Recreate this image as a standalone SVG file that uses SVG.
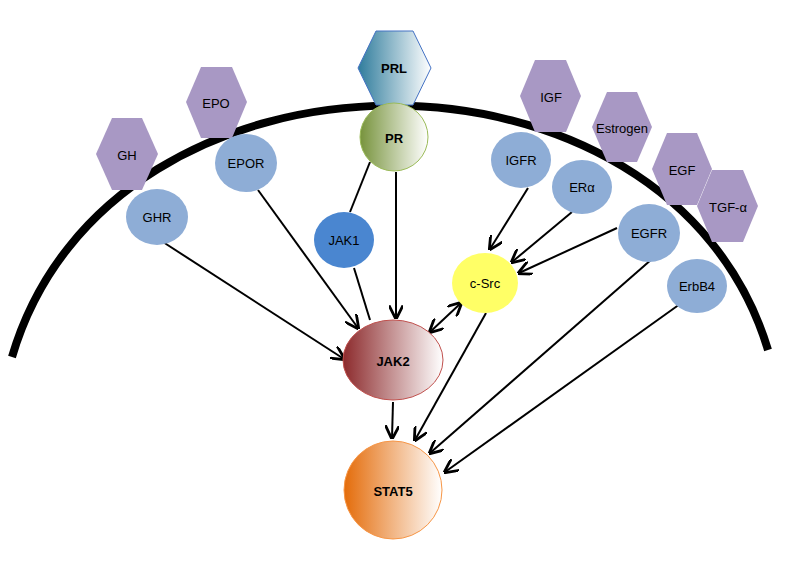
<svg xmlns="http://www.w3.org/2000/svg" width="785" height="588" viewBox="0 0 785 588">
<defs>
<linearGradient id="gPRL" x1="0" x2="1" y1="0" y2="0"><stop offset="0" stop-color="#2f7c9c"/><stop offset="1" stop-color="#ffffff"/></linearGradient>
<linearGradient id="gPR" x1="0" x2="1"><stop offset="0" stop-color="#77933c"/><stop offset="1" stop-color="#ffffff"/></linearGradient>
<linearGradient id="gJAK2" x1="0" x2="1"><stop offset="0" stop-color="#8c2a2c"/><stop offset="1" stop-color="#ffffff"/></linearGradient>
<linearGradient id="gSTAT5" x1="0" x2="1"><stop offset="0" stop-color="#e46c0a"/><stop offset="1" stop-color="#ffffff"/></linearGradient>
<marker id="ah" viewBox="0 0 10 10" refX="9" refY="5" markerWidth="7" markerHeight="7" orient="auto-start-reverse"><path d="M0,0 L10,5 L0,10" fill="none" stroke="#000" stroke-width="2"/></marker>
</defs>
<style>
.hex{fill:#a898c4;stroke:none}
.rec{fill:#8eadd6;stroke:none}
text{font-family:"Liberation Sans",Arial,sans-serif;font-size:13px;text-anchor:middle;dominant-baseline:central;fill:#000}
.b{font-weight:bold}
.e{stroke:#000;stroke-width:2;fill:none}
.a{marker-end:url(#ah)}
</style>
<rect width="785" height="588" fill="#fff"/>
<path d="M12,357 C110,23 670,23 768,350" fill="none" stroke="#000" stroke-width="8"/>
<g id="connectors">
<line class="e a" x1="163" y1="242" x2="344" y2="359"/>
<line class="e a" x1="258" y1="190" x2="358" y2="328"/>
<line class="e" x1="370" y1="162" x2="350" y2="212"/>
<line class="e" x1="354" y1="268" x2="370" y2="320"/>
<line class="e a" x1="396" y1="172" x2="396" y2="318"/>
<line class="e a" x1="528" y1="188" x2="490" y2="249"/>
<line class="e a" x1="572" y1="212" x2="512" y2="262"/>
<line class="e a" x1="617" y1="228" x2="519" y2="273"/>
<line class="e a" x1="461" y1="303" x2="430" y2="332" marker-start="url(#ah)"/>
<line class="e a" x1="486" y1="313" x2="415" y2="440"/>
<line class="e a" x1="393" y1="402" x2="392" y2="438"/>
<line class="e a" x1="652" y1="259" x2="430" y2="453"/>
<line class="e a" x1="680" y1="304" x2="445" y2="472"/>
</g>
<g id="GH"><polygon class="hex" points="96,154 112,118 142,118 158,154 142,190 112,190"/><text x="127" y="155">GH</text></g>
<g id="EPO"><polygon class="hex" points="186,102 201,67 232,67 247,102 232,138 201,138"/><text x="216" y="103">EPO</text></g>
<g id="PRL"><polygon points="358,68 376,31 413,31 431,68 413,105 376,105" fill="url(#gPRL)" stroke="#4472c4" stroke-width="1"/><text class="b" x="394" y="68">PRL</text></g>
<g id="IGF"><polygon class="hex" points="520,96 535,60 566,60 581,96 566,132 535,132"/><text x="551" y="97">IGF</text></g>
<g id="Estrogen"><polygon class="hex" points="592,127 607,92 637,92 652,127 637,162 607,162"/><text x="622" y="128">Estrogen</text></g>
<g id="EGF"><polygon class="hex" points="652,169 667,133 697,133 712,169 697,205 667,205"/><text x="682" y="170">EGF</text></g>
<g id="TGF"><polygon class="hex" points="697,206 712,170 743,170 758,206 743,242 712,242"/><text x="728" y="207">TGF-α</text></g>
<g id="GHR"><ellipse class="rec" cx="157" cy="217" rx="31" ry="28"/><text x="157" y="217">GHR</text></g>
<g id="EPOR"><ellipse class="rec" cx="246" cy="163" rx="31" ry="29"/><text x="246" y="163">EPOR</text></g>
<g id="PR"><circle cx="394" cy="137" r="34" fill="url(#gPR)" stroke="#9bbb59" stroke-width="1"/><text class="b" x="394" y="138">PR</text></g>
<g id="JAK1"><ellipse cx="344" cy="240" rx="30" ry="28" fill="#4a86d0"/><text x="344" y="240">JAK1</text></g>
<g id="IGFR"><ellipse class="rec" cx="521" cy="160" rx="30" ry="28"/><text x="521" y="160">IGFR</text></g>
<g id="ERa"><ellipse class="rec" cx="582" cy="187" rx="30" ry="27"/><text x="582" y="187">ERα</text></g>
<g id="EGFR"><ellipse class="rec" cx="649" cy="233" rx="31" ry="29"/><text x="649" y="233">EGFR</text></g>
<g id="ErbB4"><ellipse class="rec" cx="697" cy="286" rx="30" ry="27"/><text x="697" y="286">ErbB4</text></g>
<g id="cSrc"><ellipse cx="485" cy="283" rx="33" ry="30" fill="#ffff66"/><text x="485" y="283">c-Src</text></g>
<g id="JAK2"><ellipse cx="393" cy="360" rx="50" ry="40" fill="url(#gJAK2)" stroke="#c0504d" stroke-width="1"/><text class="b" x="393" y="361">JAK2</text></g>
<g id="STAT5"><circle cx="393" cy="490" r="49" fill="url(#gSTAT5)" stroke="#f79646" stroke-width="1"/><text class="b" x="393" y="491">STAT5</text></g>
</svg>
